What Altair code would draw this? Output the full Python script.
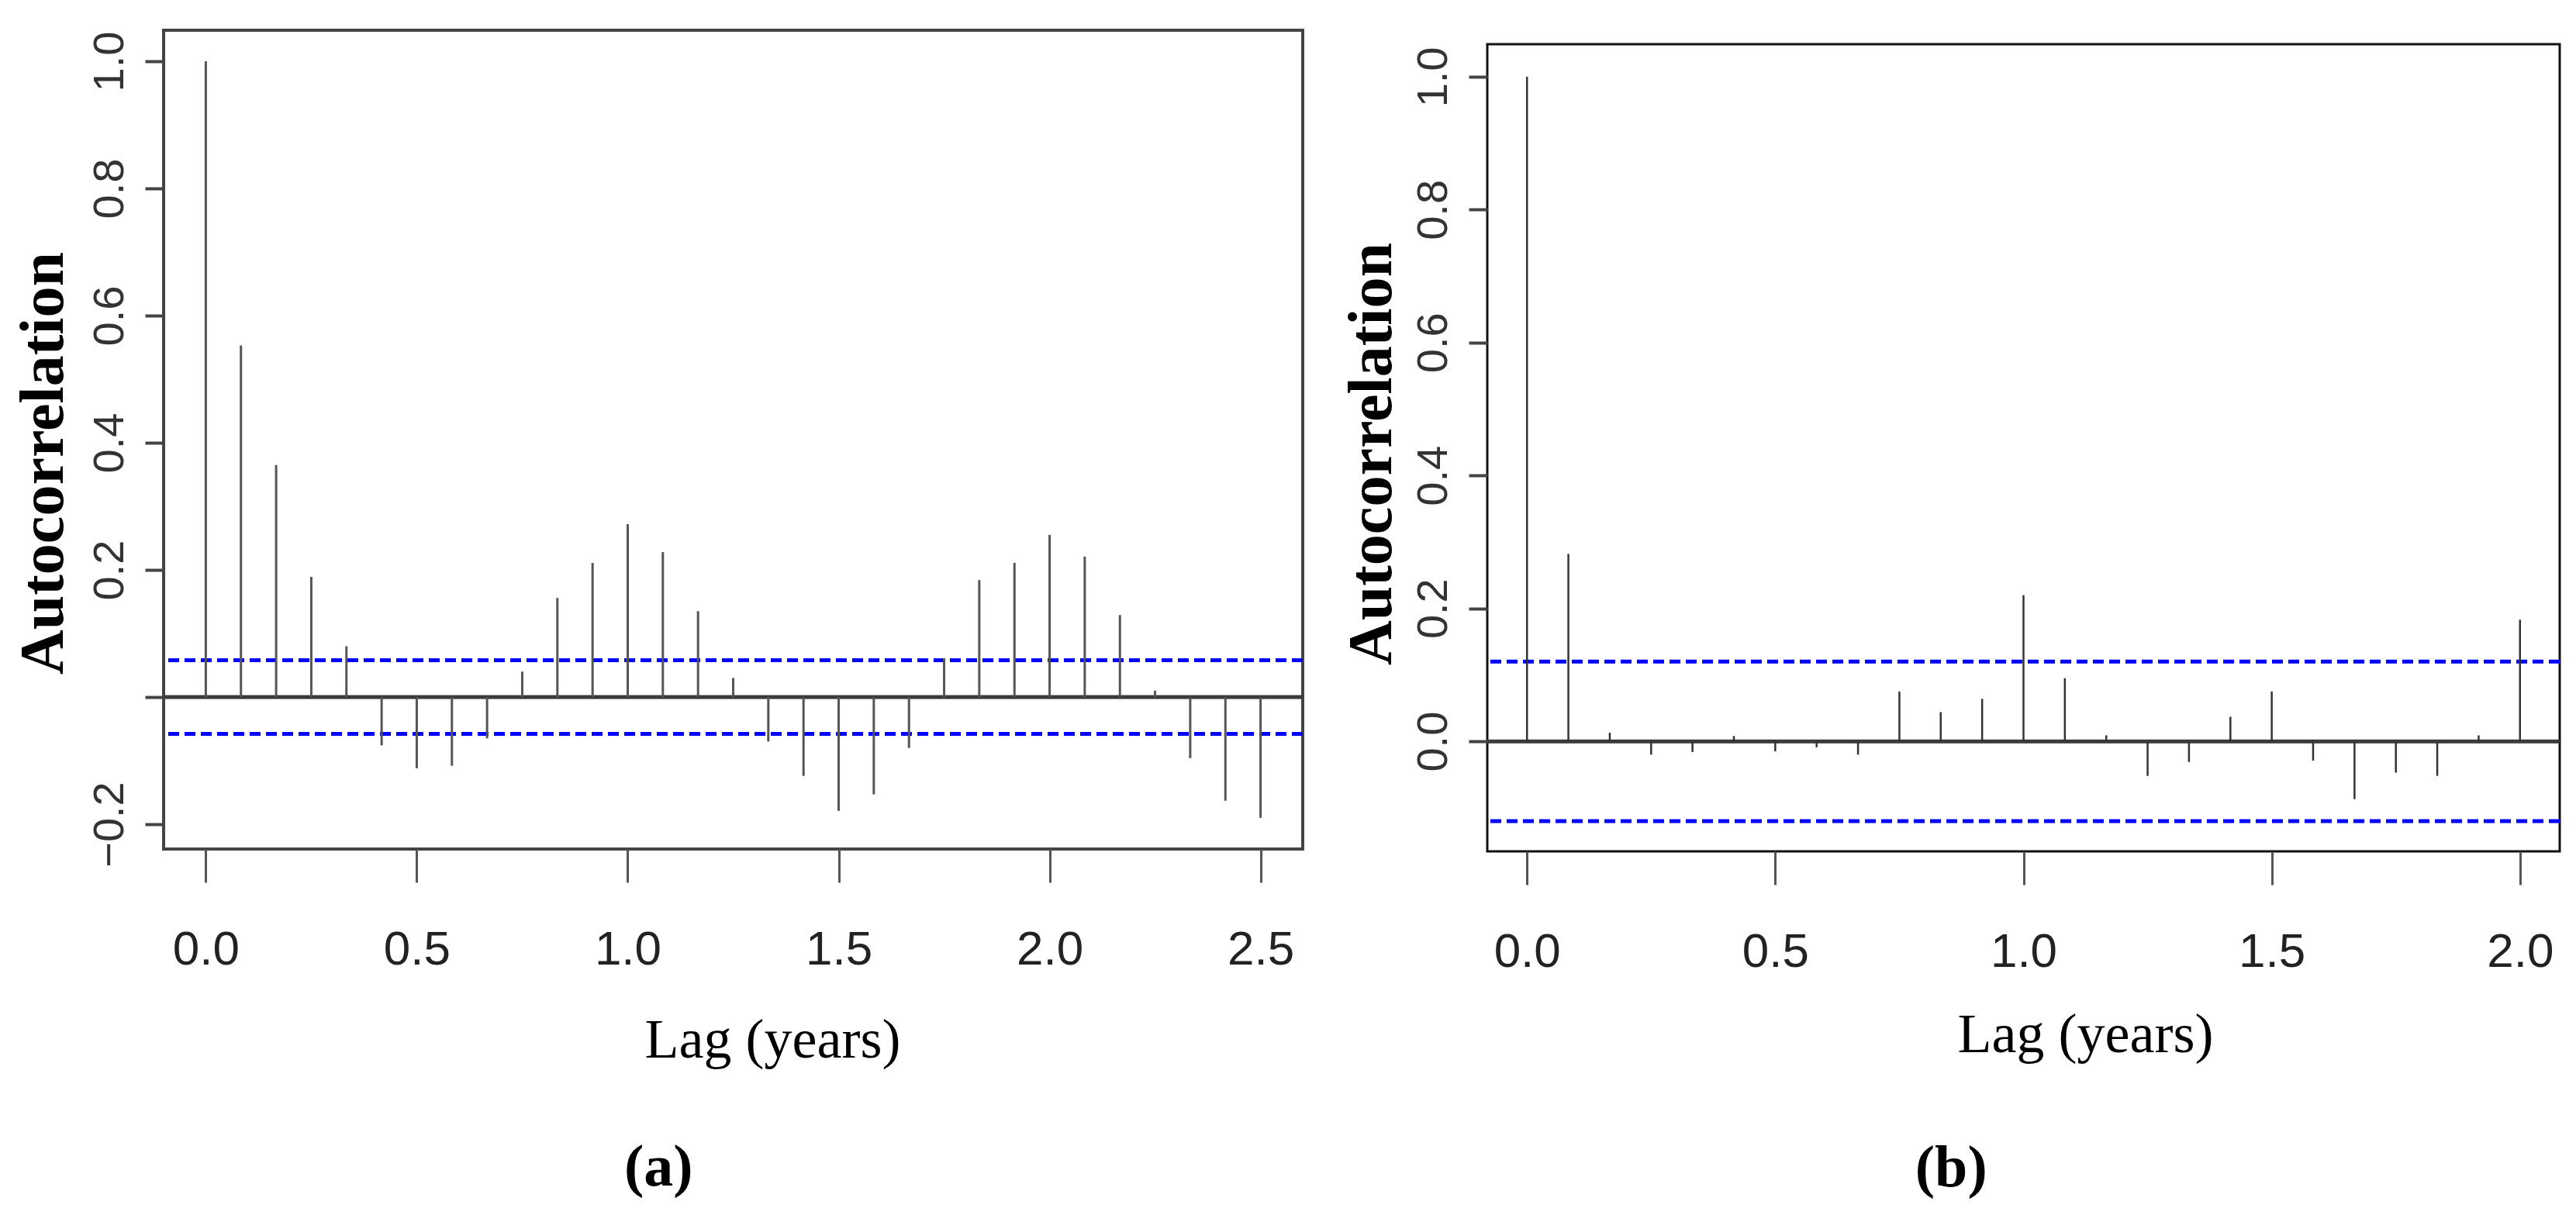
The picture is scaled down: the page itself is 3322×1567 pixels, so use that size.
import altair as alt
import pandas as pd

# ---------------- data ----------------
lag_a = [0.0, 0.0833, 0.1667, 0.25, 0.3333, 0.4167, 0.5, 0.5833, 0.6667, 0.75,
         0.8333, 0.9167, 1.0, 1.0833, 1.1667, 1.25, 1.3333, 1.4167, 1.5, 1.5833,
         1.6667, 1.75, 1.8333, 1.9167, 2.0, 2.0833, 2.1667, 2.25, 2.3333, 2.4167, 2.5]
acf_a = [1.0, 0.553, 0.365, 0.189, 0.080, -0.076, -0.112, -0.108, -0.065, 0.040,
         0.156, 0.211, 0.272, 0.228, 0.135, 0.030, -0.070, -0.124, -0.179, -0.153,
         -0.080, 0.061, 0.184, 0.211, 0.255, 0.221, 0.129, 0.010, -0.096, -0.163, -0.190]
ci_a = [0.058, -0.058]

lag_b = [0.0, 0.0833, 0.1667, 0.25, 0.3333, 0.4167, 0.5, 0.5833, 0.6667, 0.75,
         0.8333, 0.9167, 1.0, 1.0833, 1.1667, 1.25, 1.3333, 1.4167, 1.5, 1.5833,
         1.6667, 1.75, 1.8333, 1.9167, 2.0]
acf_b = [1.0, 0.282, 0.013, -0.020, -0.016, 0.008, -0.015, -0.009, -0.020, 0.075,
         0.044, 0.064, 0.220, 0.095, 0.009, -0.052, -0.031, 0.037, 0.075, -0.029,
         -0.087, -0.047, -0.052, 0.009, 0.183]
ci_b = [0.12, -0.12]

xticks_a = [0.0, 0.5, 1.0, 1.5, 2.0, 2.5]
xticks_b = [0.0, 0.5, 1.0, 1.5, 2.0]
yticks_a = [-0.2, 0.0, 0.2, 0.4, 0.6, 0.8, 1.0]
yticks_b = [0.0, 0.2, 0.4, 0.6, 0.8, 1.0]

x_title = "Lag (years)"
y_title = "Autocorrelation"
captions = ["(a)", "(b)"]

SERIF = "Liberation Serif"
SANS = "Liberation Sans"
NARROW = "Liberation Sans Narrow, Liberation Sans"


def panel(lags, acf, ci, xdom, ydom, xticks, yticks, width, height,
          ytitle_x, ytitle_y, xtitle_x, xtitle_y, caption, cap_offset, hide_zero,
          frame_color, frame_w, spike_color, spike_w):
    df = pd.DataFrame({"lag": lags, "acf": acf})
    ci_df = pd.DataFrame({"ci": ci})
    zero_df = pd.DataFrame({"z": [0.0]})

    xs = alt.Scale(domain=xdom, nice=False, zero=False)
    ys = alt.Scale(domain=ydom, nice=False, zero=False)

    if hide_zero:
        lab = "datum.value == 0 ? '' : format(datum.value, '.1f')"
    else:
        lab = "format(datum.value, '.1f')"

    xaxis = alt.Axis(values=xticks, format=".1f", title=x_title, grid=False,
                     domain=False, tickSize=43, tickWidth=3, tickColor="#555",
                     labelFont=NARROW, labelFontSize=62, labelColor="#222",
                     labelBaseline="middle", labelAlign="center", labelPadding=86,
                     labelFlush=False, labelOverlap=False,
                     titleFont=SERIF, titleFontSize=72, titleFontWeight="normal",
                     titleColor="#000", titleX=xtitle_x, titleY=xtitle_y,
                     titleAlign="center", titleBaseline="alphabetic")
    yaxis = alt.Axis(values=yticks, labelExpr=lab, title=y_title, grid=False,
                     domain=False, tickSize=24, tickWidth=4, tickColor="#444",
                     labelFont=SANS, labelFontSize=56, labelColor="#333",
                     labelAngle=270, labelAlign="center", labelBaseline="middle",
                     labelPadding=46, labelFlush=False, labelOverlap=False,
                     titleFont=SERIF, titleFontSize=80, titleFontWeight="bold",
                     titleColor="#000", titleAngle=270, titleX=ytitle_x,
                     titleY=ytitle_y, titleAlign="center", titleBaseline="middle")

    spikes = alt.Chart(df).mark_rule(color=spike_color, strokeWidth=spike_w).encode(
        x=alt.X("lag:Q", scale=xs, axis=xaxis),
        y=alt.Y("acf:Q", scale=ys, axis=yaxis),
        y2=alt.datum(0),
    )
    zero = alt.Chart(zero_df).mark_rule(color="#3a3a3a", strokeWidth=5).encode(
        y=alt.Y("z:Q", scale=ys, axis=yaxis)
    )
    bands = alt.Chart(ci_df).mark_rule(color="#0000FF", strokeWidth=5,
                                       strokeDash=[14, 7]).encode(
        y=alt.Y("ci:Q", scale=ys, axis=yaxis)
    )
    return alt.layer(zero, bands, spikes).properties(
        width=width, height=height,
        view=alt.ViewBackground(stroke=frame_color, strokeWidth=frame_w, fill="white"),
        title=alt.TitleParams(caption, orient="bottom", anchor="middle", frame="bounds",
                              font=SERIF, fontSize=76, fontWeight="bold",
                              color="#000", offset=cap_offset),
    )


panel_a = panel(lag_a, acf_a, ci_a, [-0.1, 2.6], [-0.239, 1.0488], xticks_a, yticks_a,
                1469, 1056, -155, 558, 785, 268, captions[0], 92, True,
                "#444", 4, "#555", 3)
panel_b = panel(lag_b, acf_b, ci_b, [-0.08, 2.08], [-0.1655, 1.0489], xticks_b, yticks_b,
                1383, 1041, -149, 528, 771, 258, captions[1], 100, False,
                "#111", 3, "#333", 2.5)

spacer = alt.Chart(pd.DataFrame({"s": [0]})).mark_rule(opacity=0).encode(
    x=alt.value(0)
).properties(width=1383, height=16,
             view=alt.ViewBackground(stroke="transparent", strokeWidth=0))

chart = alt.hconcat(
    panel_a,
    alt.vconcat(spacer, panel_b, spacing=0),
    spacing=42,
).properties(
    padding={"left": 6, "top": 29, "right": 0, "bottom": 0},
    background="white",
)

chart.save("out.html", embed_options={"renderer": "svg", "actions": False})
